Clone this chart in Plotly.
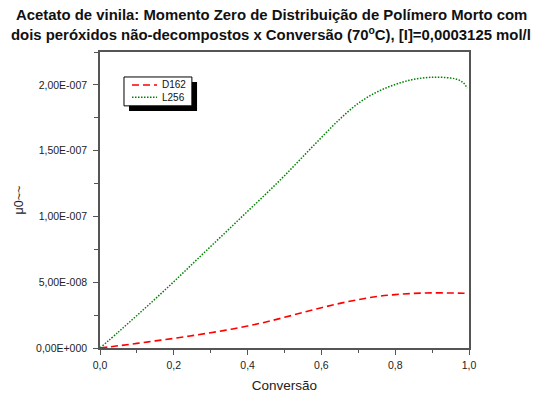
import plotly.graph_objects as go

conversao = [0, 0.05, 0.1, 0.15, 0.2, 0.25, 0.3, 0.35, 0.4, 0.45, 0.5, 0.55, 0.6,
             0.65, 0.7, 0.75, 0.8, 0.85, 0.9, 0.95, 0.97, 0.985, 0.995]
d162 = [0, 0.17e-8, 0.35e-8, 0.54e-8, 0.73e-8, 0.94e-8, 1.16e-8, 1.40e-8, 1.67e-8,
        1.98e-8, 2.33e-8, 2.70e-8, 3.06e-8, 3.39e-8, 3.68e-8, 3.91e-8, 4.06e-8,
        4.15e-8, 4.19e-8, 4.18e-8, 4.17e-8, 4.16e-8, 4.15e-8]
l256 = [0, 1.22e-8, 2.47e-8, 3.74e-8, 5.04e-8, 6.38e-8, 7.72e-8, 9.05e-8, 10.39e-8,
        11.72e-8, 13.1e-8, 14.55e-8, 16.0e-8, 17.4e-8, 18.6e-8, 19.45e-8, 20.03e-8,
        20.42e-8, 20.58e-8, 20.52e-8, 20.4e-8, 20.15e-8, 19.76e-8]
series_names = ["D162", "L256"]

x_ticks = [0, 0.2, 0.4, 0.6, 0.8, 1.0]
x_labels = ["0,0", "0,2", "0,4", "0,6", "0,8", "1,0"]
y_ticks = [0, 5e-8, 1e-7, 1.5e-7, 2e-7]
y_labels = ["0,00E+000", "5,00E-008", "1,00E-007", "1,50E-007", "2,00E-007"]

FONT = "Liberation Sans, Arial, sans-serif"
RED_DASH = "7px,4px"
GREEN_DOT = "1.5px,1.5px"

fig = go.Figure()
fig.add_trace(go.Scatter(x=conversao, y=d162, mode="lines", name=series_names[0],
                         line=dict(color="#ff0000", width=1.6, dash=RED_DASH,
                                   shape="spline", smoothing=1.0)))
fig.add_trace(go.Scatter(x=conversao, y=l256, mode="lines", name=series_names[1],
                         line=dict(color="#008000", width=1.5, dash=GREEN_DOT,
                                   shape="spline", smoothing=1.0)))

axis_common = dict(showline=True, linecolor="#555555", linewidth=1.5, mirror=True,
                   showgrid=False, zeroline=False, ticks="outside", ticklen=5,
                   tickcolor="#555555", tickwidth=1, automargin=False,
                   tickfont=dict(family=FONT, size=10.5, color="#222222"))

fig.update_xaxes(range=[0, 1.0], tickvals=x_ticks, ticktext=x_labels,
                 minor=dict(dtick=0.1, ticks="outside", ticklen=3, tickcolor="#555555"),
                 ticklabelstandoff=2,
                 title=dict(text="Conversão", font=dict(family=FONT, size=13.5, color="#222222"),
                            standoff=10),
                 **axis_common)
fig.update_yaxes(range=[0, 2.25e-7], tickvals=y_ticks, ticktext=y_labels,
                 minor=dict(dtick=2.5e-8, ticks="outside", ticklen=4, tickcolor="#555555"),
                 ticklabelstandoff=4,
                 title=dict(text="μ0~~", font=dict(family=FONT, size=12.5, color="#222222"),
                            standoff=10),
                 **axis_common)

# manual legend (box with drop shadow, like the original)
fig.add_shape(type="rect", xref="paper", yref="paper", x0=0.0786, x1=0.263, y0=0.801, y1=0.899,
              fillcolor="black", line=dict(width=0), layer="above")
fig.add_shape(type="rect", xref="paper", yref="paper", x0=0.065, x1=0.249, y0=0.818, y1=0.9156,
              fillcolor="white", line=dict(color="black", width=1), layer="above")
legend_rows = [0.8886, 0.8471]
legend_styles = [dict(color="#ff0000", width=1.6, dash=RED_DASH),
                 dict(color="#008000", width=1.5, dash=GREEN_DOT)]
for name, ry, st in zip(series_names, legend_rows, legend_styles):
    fig.add_shape(type="line", xref="paper", yref="paper", x0=0.0867, x1=0.1545, y0=ry, y1=ry,
                  line=st, layer="above")
    fig.add_annotation(text=name, xref="paper", yref="paper", x=0.163, y=ry,
                       xanchor="left", yanchor="middle", showarrow=False,
                       font=dict(family=FONT, size=10, color="#111111"))

# two-line bold title
title_lines = ["<b>Acetato de vinila: Momento Zero de Distribuição de Polímero Morto com</b>",
               "<b>dois peróxidos não-decompostos x Conversão (70<sup>o</sup>C), [I]=0,0003125 mol/l</b>"]
for line, ypix in zip(title_lines, [15, 34]):
    fig.add_annotation(text=line, xref="paper", yref="paper", x=(271 - 100) / 369,
                       y=(348.3 - ypix) / 296.3, xanchor="center", yanchor="middle",
                       showarrow=False, font=dict(family=FONT, size=14.9, color="#111111"))

# the page body has an 8px margin, so the figure is 8px smaller and its margins
# are reduced to keep the plot area at page pixels x 100..469, y 52..348
fig.update_layout(
    width=532, height=386,
    margin=dict(l=92, r=71, t=44, b=46),
    paper_bgcolor="white", plot_bgcolor="white",
    showlegend=False,
)

fig.write_html("out.html")
